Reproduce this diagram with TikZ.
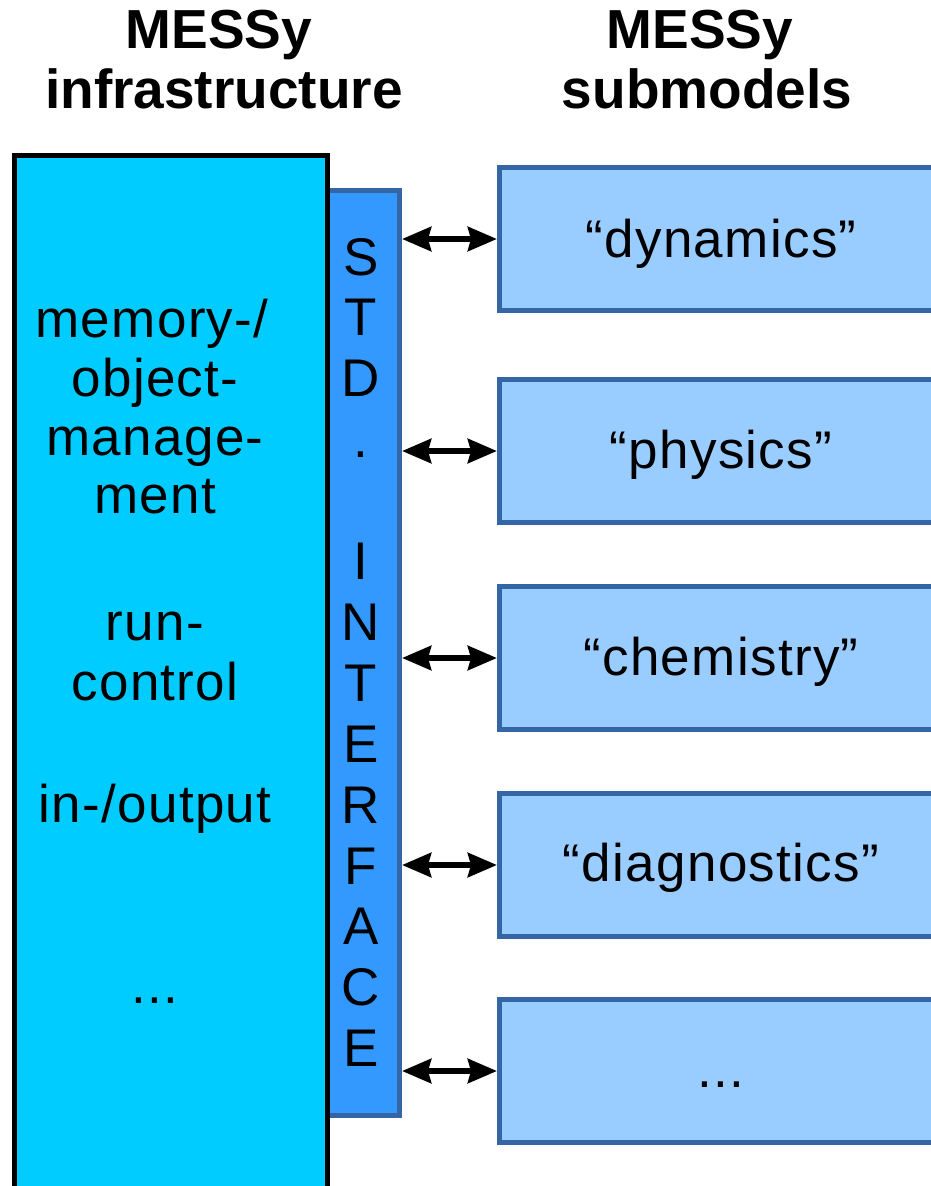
\documentclass[tikz,border=0pt]{standalone}
\usepackage{fontspec}
\setmainfont{Liberation Sans}
\newfontfamily\spacedfont[LetterSpace=2.5]{Liberation Sans}
\usetikzlibrary{arrows.meta}
\definecolor{infracol}{HTML}{00CCFF}
\definecolor{ifccol}{HTML}{3399FF}
\definecolor{subcol}{HTML}{99CCFF}
\definecolor{edgecol}{HTML}{3465A4}
\begin{document}
\begin{tikzpicture}[x=1pt,y=-1pt,
  txt/.style={font=\spacedfont\fontsize{53}{60}\selectfont, inner sep=0pt, anchor=base},
  ltr/.style={font=\fontsize{53}{60}\selectfont, inner sep=0pt, anchor=base},
  hdr/.style={font=\fontsize{55}{60}\selectfont\bfseries, inner sep=0pt, anchor=base},
  subbox/.style={draw=edgecol, fill=subcol, line width=5pt, minimum width=480pt,
    minimum height=143pt, anchor=north west, inner sep=0pt},
  link/.style={line width=6pt,
    {Stealth[length=29pt,width=24pt,inset=3pt]}-{Stealth[length=29pt,width=24pt,inset=3pt]}}
]
\useasboundingbox (0,0) rectangle (931,1186);
\clip (0,0) rectangle (931,1186);

% headers
\node[hdr] (h1a) at (219,48) {MESSy};
\node[hdr] (h1b) at (224,108) {infrastructure};
\node[hdr] (h2a) at (700,48) {MESSy};
\node[hdr] (h2b) at (707,108) {submodels};

% standard interface column
\node[draw=edgecol, fill=ifccol, line width=5pt, anchor=north east,
  minimum width=80pt, minimum height=925pt, inner sep=0pt] (iface) at (402,188) {};

% infrastructure box
\node[draw=black, fill=infracol, line width=5pt, anchor=north west,
  minimum width=313pt, minimum height=1100pt, inner sep=0pt] (infra) at (12,153) {};

% infrastructure texts
\node[txt] (t1) at (152,337) {memory-/};
\node[txt] (t2) at (155,396) {object-};
\node[txt] (t3) at (155,455) {manage-};
\node[txt] (t4) at (155,513) {ment};
\node[txt] (t5) at (155,640) {run-};
\node[txt] (t6) at (155,700) {control};
\node[txt] (t7) at (155,822) {in-/output};
\node[txt] (t8) at (155,1003) {...};

% interface letters
\foreach \l [count=\i from 0] in {S,T,D,.,{},I,N,T,E,R,F,A,C,E} {
  \node[ltr] (ifl\i) at (361,{275+60.9*\i}) {\l};
}

% submodel boxes
\node[subbox] (sm1) at (497,165) {};
\node[subbox] (sm2) at (497,377) {};
\node[subbox] (sm3) at (497,584) {};
\node[subbox] (sm4) at (497,791) {};
\node[subbox] (sm5) at (497,997) {};

\node[txt] (s1) at (721,257) {“dynamics”};
\node[txt] (s2) at (721,468) {“physics”};
\node[txt] (s3) at (721,675) {“chemistry”};
\node[txt] (s4) at (721,881) {“diagnostics”};
\node[txt] (s5) at (721,1087) {...};

% links
\foreach \k in {1,...,5} {
  \draw[link] (sm\k.west -| iface.east) -- (sm\k.west);
}
\end{tikzpicture}
\end{document}
